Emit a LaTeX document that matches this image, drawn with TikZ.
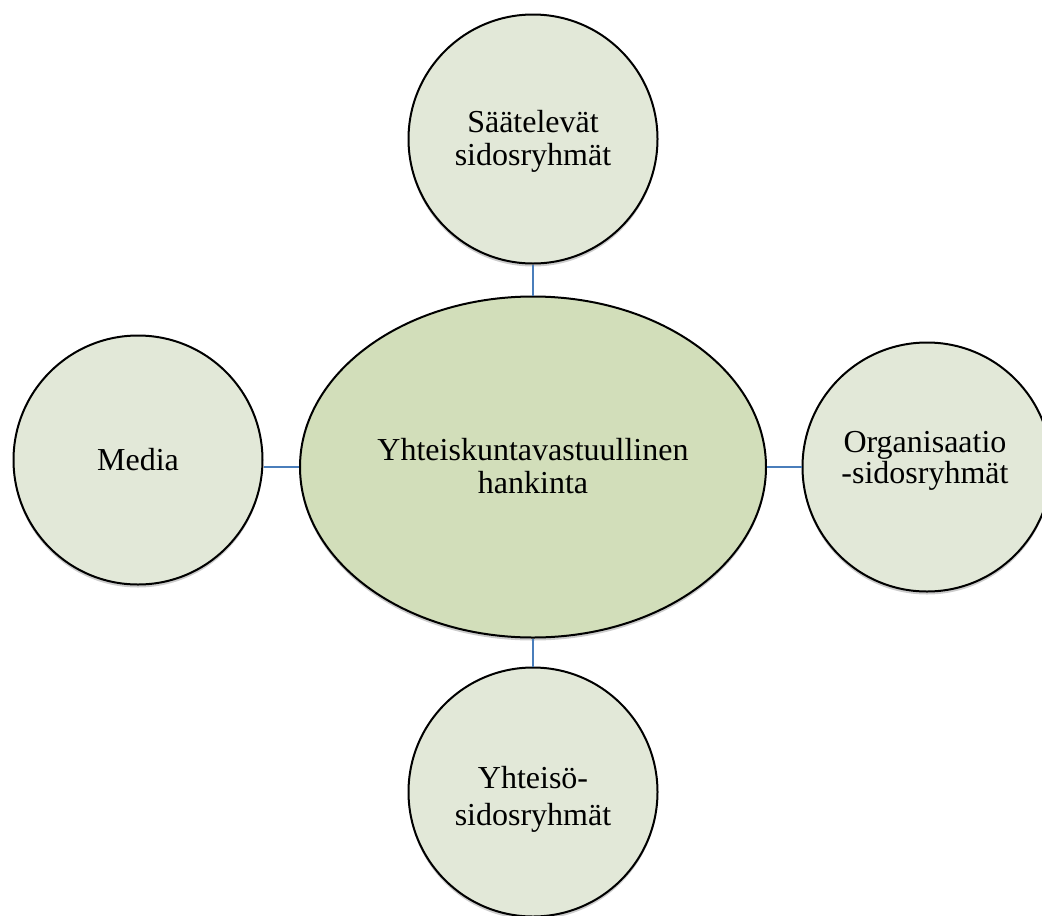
\documentclass[tikz,border=0pt]{standalone}
\usepackage{fontspec}
\setmainfont{Liberation Serif}
\usetikzlibrary{shapes.geometric,shadows}
\definecolor{circfill}{RGB}{226,232,216}
\definecolor{ellfill}{RGB}{210,222,186}
\definecolor{linkblue}{RGB}{74,126,187}
\begin{document}
\begin{tikzpicture}[x=1pt,y=-1pt,
  bub/.style={circle,draw=black,line width=2pt,fill=circfill,minimum size=249pt,inner sep=0pt,
    drop shadow={shadow xshift=0pt,shadow yshift=-3pt,opacity=0.2,fill=black}},
  core/.style={ellipse,draw=black,line width=2pt,fill=ellfill,minimum width=466pt,minimum height=341pt,inner sep=0pt,
    drop shadow={shadow xshift=0pt,shadow yshift=-3pt,opacity=0.2,fill=black}},
  txt/.style={anchor=base,inner sep=0pt,font=\fontsize{32}{35}\selectfont},
  link/.style={draw=linkblue,line width=1.4pt}]
\useasboundingbox (0,0) rectangle (1042,916);
\clip (0,0) rectangle (1042,916);
\fill[white] (0,0) rectangle (1042,916);
% nodes
\node[core] (c) at (533,467) {};
\node[bub] (t) at (533,139) {};
\node[bub] (l) at (138,460) {};
\node[bub] (r) at (927,467) {};
\node[bub] (b) at (533,792) {};
% connectors
\draw[link] (t.south) -- (c.north);
\draw[link] (c.south) -- (b.north);
\draw[link] (c.west) -- (c.west -| l.east);
\draw[link] (c.east) -- (c.east -| r.west);
% texts
\node[txt] (t1) at (533,132) {Säätelevät};
\node[txt] (t2) at (533,165) {sidosryhmät};
\node[txt] (c1) at (533,460) {Yhteiskuntavastuullinen};
\node[txt] (c2) at (533,493) {hankinta};
\node[txt] (l1) at (138,470) {Media};
\node[txt] (r1) at (925,452) {Organisaatio};
\node[txt] (r2) at (925,483) {-sidosryhmät};
\node[txt] (b1) at (533,788) {Yhteisö-};
\node[txt] (b2) at (533,825) {sidosryhmät};
\end{tikzpicture}
\end{document}
